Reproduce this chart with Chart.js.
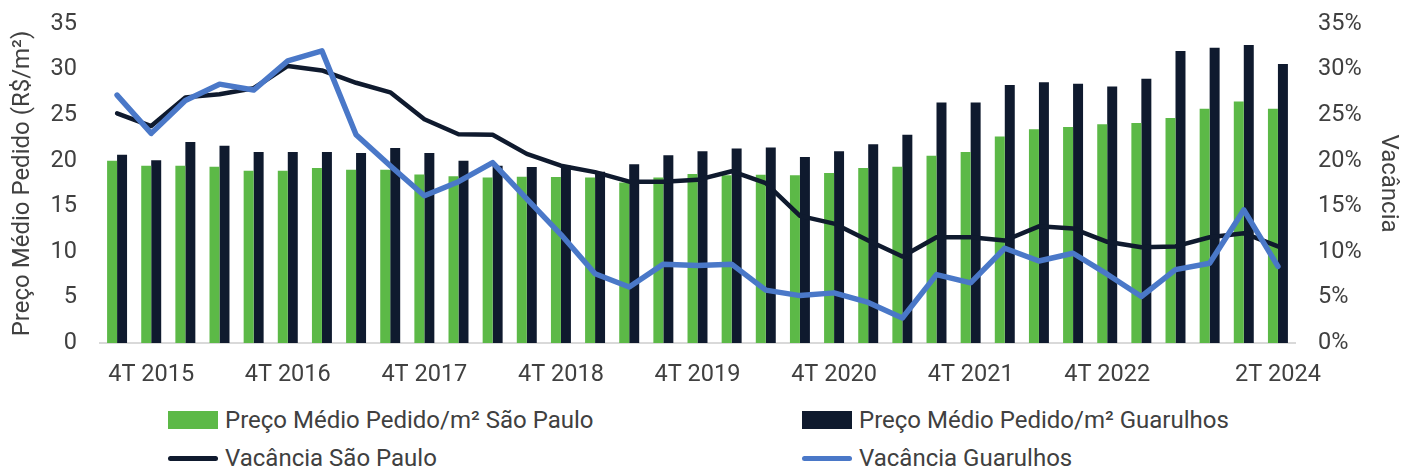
<!DOCTYPE html>
<html><head><meta charset="utf-8">
<script src="https://cdn.jsdelivr.net/npm/chart.js@4.4.0/dist/chart.umd.min.js"></script>
<style>
html,body{margin:0;padding:0;background:#fff;}
#wrap{position:relative;width:1404px;height:469px;overflow:hidden;font-family:Roboto,sans-serif;}
#c{position:absolute;left:0;top:0;}
.lg{position:absolute;display:flex;align-items:center;height:28px;font-size:24px;color:#404040;white-space:nowrap;}
.sw{width:50px;height:18px;margin-right:7px;flex:none;}
.ln{width:50px;height:5px;border-radius:3px;margin-right:7px;flex:none;}
</style></head>
<body><div id="wrap"><canvas id="c" width="1404" height="395"></canvas><div id="legend"></div></div>
<script>
const categories = ['3T 2015','4T 2015','1T 2016','2T 2016','3T 2016','4T 2016','1T 2017','2T 2017','3T 2017','4T 2017',
  '1T 2018','2T 2018','3T 2018','4T 2018','1T 2019','2T 2019','3T 2019','4T 2019','1T 2020','2T 2020','3T 2020','4T 2020',
  '1T 2021','2T 2021','3T 2021','4T 2021','1T 2022','2T 2022','3T 2022','4T 2022','1T 2023','2T 2023','3T 2023','4T 2023','2T 2024'];
const shownTickLabels = ['4T 2015','4T 2016','4T 2017','4T 2018','4T 2019','4T 2020','4T 2021','4T 2022','2T 2024'];
const precoSaoPaulo = [20.0,19.45,19.45,19.35,18.9,18.9,19.2,19.0,19.0,18.5,18.3,18.15,18.25,18.2,18.15,17.6,18.15,18.55,18.4,18.45,18.4,18.65,19.2,19.35,20.55,20.95,22.65,23.45,23.7,24.0,24.15,24.7,25.7,26.5,25.7];
const precoGuarulhos = [20.65,20.05,22.05,21.65,20.95,20.95,20.95,20.85,21.4,20.85,20.0,19.45,19.3,19.45,18.8,19.6,20.6,21.05,21.35,21.45,20.4,21.05,21.8,22.85,26.4,26.4,28.3,28.6,28.45,28.15,29.0,32.05,32.4,32.7,30.6];
const vacanciaSaoPaulo = [25.2,23.8,26.95,27.3,27.95,30.4,29.9,28.55,27.5,24.55,22.9,22.85,20.75,19.45,18.75,17.7,17.7,17.9,18.85,17.55,13.95,13.1,11.25,9.5,11.6,11.6,11.25,12.8,12.55,11.1,10.5,10.6,11.6,12.05,10.6];
const vacanciaGuarulhos = [27.2,23.0,26.6,28.4,27.75,30.95,32.05,22.85,19.45,16.15,17.7,19.8,15.8,11.9,7.6,6.15,8.65,8.5,8.65,5.8,5.2,5.5,4.45,2.75,7.5,6.6,10.4,9.0,9.85,7.55,5.1,8.05,8.75,14.6,8.4];
const leftTicks = [0,5,10,15,20,25,30,35];
const rightTicks = [0,5,10,15,20,25,30,35];

const GREEN = '#5cb947', NAVY = '#0f1a2e', BLUE = '#4a78c8', TXT = '#404040';
Chart.defaults.font.family = 'Roboto, sans-serif';
Chart.defaults.font.size = 23.5;
Chart.defaults.color = TXT;

function fixV(width){ return function(s){ s.width = width; s.paddingTop = 0; s.paddingBottom = 0; }; }

const chart = new Chart(document.getElementById('c'), {
  data: {
    labels: categories,
    datasets: [
      {type:'line', label:'Vacância Guarulhos', data:vacanciaGuarulhos, yAxisID:'y1', borderColor:BLUE, backgroundColor:BLUE, borderWidth:5.5, pointRadius:0, tension:0, borderJoinStyle:'round', borderCapStyle:'round', order:0},
      {type:'line', label:'Vacância São Paulo', data:vacanciaSaoPaulo, yAxisID:'y1', borderColor:NAVY, backgroundColor:NAVY, borderWidth:4.5, pointRadius:0, tension:0, borderJoinStyle:'round', borderCapStyle:'round', order:1},
      {type:'bar', label:'Preço Médio Pedido/m² São Paulo', data:precoSaoPaulo, yAxisID:'y', backgroundColor:GREEN, categoryPercentage:0.585, barPercentage:1, order:2},
      {type:'bar', label:'Preço Médio Pedido/m² Guarulhos', data:precoGuarulhos, yAxisID:'y', backgroundColor:NAVY, categoryPercentage:0.585, barPercentage:1, order:2}
    ]
  },
  options: {
    responsive:false, animation:false, devicePixelRatio:1,
    layout:{padding:{top:24,left:0,right:0,bottom:0}},
    plugins:{legend:{display:false}, tooltip:{enabled:false}},
    scales:{
      x:{
        grid:{display:false, drawTicks:false},
        border:{display:true,color:'#d9d9d9',width:2},
        ticks:{autoSkip:false,maxRotation:0,minRotation:0,padding:18,
          callback:function(v,i){ const l = categories[i]; return shownTickLabels.includes(l) ? l : ''; }},
        afterFit:function(s){ s.height = 52; }
      },
      y:{
        position:'left', min:0, max:35,
        afterBuildTicks:function(s){ s.ticks = leftTicks.map(v=>({value:v})); },
        grid:{display:false, drawTicks:false}, border:{display:false},
        ticks:{padding:23},
        title:{display:true,text:'Preço Médio Pedido (R$/m²)',font:{size:24},padding:{top:9,bottom:0}},
        afterFit:fixV(100)
      },
      y1:{
        position:'right', min:0, max:35,
        afterBuildTicks:function(s){ s.ticks = rightTicks.map(v=>({value:v})); },
        grid:{display:false, drawTicks:false}, border:{display:false},
        ticks:{padding:23, callback:function(v){ return v + '%'; }},
        title:{display:true,text:'Vacância',font:{size:24},padding:{top:2,bottom:0}},
        afterFit:fixV(109)
      }
    }
  }
});

// HTML legend built from the chart's datasets
const legendLayout = [
  {ds:2, left:168, top:406, kind:'box'},
  {ds:3, left:802, top:406, kind:'box'},
  {ds:1, left:168, top:444, kind:'line'},
  {ds:0, left:802, top:444, kind:'line'}
];
const lg = document.getElementById('legend');
legendLayout.forEach(it => {
  const d = chart.data.datasets[it.ds];
  const el = document.createElement('div');
  el.className = 'lg';
  el.style.left = it.left + 'px';
  el.style.top = it.top + 'px';
  const sw = document.createElement('span');
  sw.className = it.kind === 'box' ? 'sw' : 'ln';
  sw.style.background = it.kind === 'box' ? d.backgroundColor : d.borderColor;
  const tx = document.createElement('span');
  tx.textContent = d.label;
  el.appendChild(sw); el.appendChild(tx);
  lg.appendChild(el);
});
</script>
</body></html>
